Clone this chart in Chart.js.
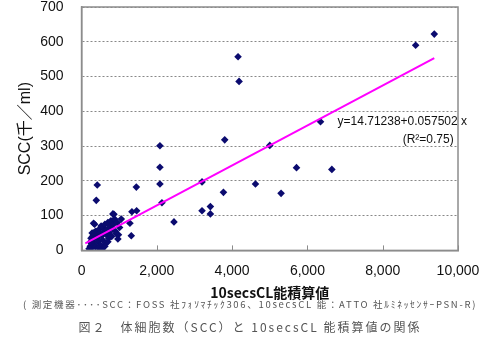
<!DOCTYPE html>
<html lang="ja">

<head>
    <meta charset="UTF-8" />
    <title>SCC vs 10secsCL</title>
    <script src="https://cdn.jsdelivr.net/npm/chart.js"></script>
    <style>
        body { margin: 0; background: #fff; }
        #wrap { position: relative; width: 500px; height: 340px; }
        .note {
            position: absolute; left: 0; width: 500px; text-align: center;
            font-family: "Noto Sans CJK JP", sans-serif; color: #555; white-space: nowrap;
        }
        #note1 { top: 297px; font-size: 9.5px; letter-spacing: 1.7px; }
        #note2 { top: 318px; font-size: 12px; letter-spacing: 2px; }
    </style>
</head>

<body>
    <div id="wrap">
        <canvas id="myChart" width="500" height="340"></canvas>
        <div class="note" id="note1">( 測定機器････SCC：FOSS 社ﾌｫｿﾏﾁｯｸ306、10secsCL 能：ATTO 社ﾙﾐﾈｯｾﾝｻｰPSN-R)</div>
        <div class="note" id="note2">図２　体細胞数（SCC）と 10secsCL 能積算値の関係</div>
    </div>

    <script>
        // 10secsCL integrated value
        const clValues = [
            9370, 8875, 4157, 4184, 6348, 3803, 2082, 5000, 5710, 6649,
            2082, 4620, 2082, 3200, 3769, 5300, 2135, 3422, 3200, 3422,
            2455, 1455, 417, 391, 1338, 1463, 1285, 1321, 832, 1055,
            1010, 965, 860,
            319, 346, 200, 230, 260, 280, 300, 320, 340, 360,
            380, 400, 420, 440, 460, 480, 500, 520, 540, 560,
            580, 600, 620, 640, 660, 680, 700, 720, 740, 760,
            780, 800, 820, 850, 880, 900, 920, 950, 980, 250,
            280, 330, 370, 450, 550, 620, 700, 240, 290
        ];
        // SCC (thousand / ml)
        const sccValues = [
            622, 590, 557, 486, 370, 318, 301, 302, 238, 233,
            239, 191, 191, 197, 167, 164, 137, 126, 114, 105,
            82, 182, 188, 144, 111, 114, 78, 42, 105, 90,
            66, 33, 104,
            78, 75, 5, 12, 20, 8, 30, 45, 52, 40,
            55, 48, 35, 25, 60, 50, 15, 70, 42, 30,
            65, 55, 75, 20, 45, 60, 80, 35, 50, 70,
            85, 40, 62, 75, 90, 55, 48, 80, 45, 35,
            50, 18, 10, 8, 5, 12, 25, 25, 40
        ];
        // regression line end points
        const trendX = [100, 9370];
        const trendY = [20, 553];

        const xTicks = [0, 2000, 4000, 6000, 8000, 10000];
        const yTicks = [0, 100, 200, 300, 400, 500, 600, 700];

        const eqText = "y=14.71238+0.057502 x";
        const r2Text = "(R²=0.75)";

        const points = clValues.map((x, i) => ({ x: x, y: sccValues[i] }));
        const trend = trendX.map((x, i) => ({ x: x, y: trendY[i] }));

        // box round the plot, small x tick marks, equation text
        const extras = {
            id: "extras",
            afterDatasetsDraw(chart) {
                const { ctx, chartArea: a, scales } = chart;
                ctx.save();
                ctx.strokeStyle = "#8c8c8c";
                ctx.lineWidth = 1.5;
                ctx.strokeRect(a.left, a.top, a.right - a.left, a.bottom - a.top);
                ctx.beginPath();
                xTicks.forEach((v) => {
                    const px = Math.round(scales.x.getPixelForValue(v)) + 0.5;
                    ctx.moveTo(px, a.bottom);
                    ctx.lineTo(px, a.bottom - 5);
                });
                ctx.lineWidth = 1;
                ctx.stroke();
                ctx.fillStyle = "#111";
                ctx.font = "12px 'Liberation Sans', sans-serif";
                ctx.textBaseline = "middle";
                ctx.textAlign = "left";
                ctx.fillText(eqText, scales.x.getPixelForValue(6800), scales.y.getPixelForValue(370));
                ctx.fillText(r2Text, scales.x.getPixelForValue(8530), scales.y.getPixelForValue(317));
                ctx.restore();
            },
        };

        const canvas = document.getElementById("myChart");
        const myChart = new Chart(canvas, {
            type: "scatter",
            data: {
                datasets: [
                    {
                        label: "SCC",
                        data: points,
                        pointStyle: "rectRot",
                        pointRadius: 3.8,
                        backgroundColor: "#0b0b6f",
                        borderColor: "#0b0b6f",
                        borderWidth: 0,
                        order: 2,
                    },
                    {
                        label: "trend",
                        data: trend,
                        showLine: true,
                        borderColor: "#ff00ff",
                        borderWidth: 2,
                        pointRadius: 0,
                        order: 1,
                    },
                ],
            },
            options: {
                responsive: false,
                animation: false,
                layout: { padding: { left: 16, right: 42, top: 6, bottom: 39 } },
                plugins: { legend: { display: false }, tooltip: { enabled: false } },
                scales: {
                    x: {
                        type: "linear",
                        min: 0,
                        max: 10000,
                        afterBuildTicks: (axis) => { axis.ticks = xTicks.map((v) => ({ value: v })); },
                        grid: {
                            drawOnChartArea: false,
                            drawTicks: true,
                            tickLength: 12,
                            tickColor: "rgba(0,0,0,0)",
                        },
                        border: { color: "#8c8c8c", width: 1.5 },
                        ticks: {
                            color: "#111",
                            padding: 0,
                            maxRotation: 0,
                            font: { family: "'Liberation Sans', sans-serif", size: 14 },
                            callback: (v) => v.toLocaleString("en-US"),
                        },
                        title: {
                            display: true,
                            text: "10secsCL能積算値",
                            color: "#111",
                            padding: { top: 5, bottom: 0 },
                            font: { family: "'Noto Sans CJK JP', sans-serif", size: 14, weight: "bold" },
                        },
                    },
                    y: {
                        min: 0,
                        max: 700,
                        afterBuildTicks: (axis) => { axis.ticks = yTicks.map((v) => ({ value: v })); },
                        grid: {
                            color: "#888",
                            lineWidth: 1,
                            drawTicks: true,
                            tickLength: 18,
                            tickColor: "rgba(0,0,0,0)",
                        },
                        border: { color: "#8c8c8c", width: 1.5, dash: [2, 2] },
                        ticks: {
                            color: "#111",
                            padding: 0,
                            font: { family: "'Liberation Sans', sans-serif", size: 14, lineHeight: 1 },
                        },
                        title: {
                            display: true,
                            text: "SCC(千／ml)",
                            color: "#111",
                            padding: { top: 0, bottom: 5 },
                            font: { family: "'Liberation Sans', 'Noto Sans CJK JP', sans-serif", size: 16 },
                        },
                    },
                },
            },
            plugins: [extras],
        });
    </script>
</body>

</html>
